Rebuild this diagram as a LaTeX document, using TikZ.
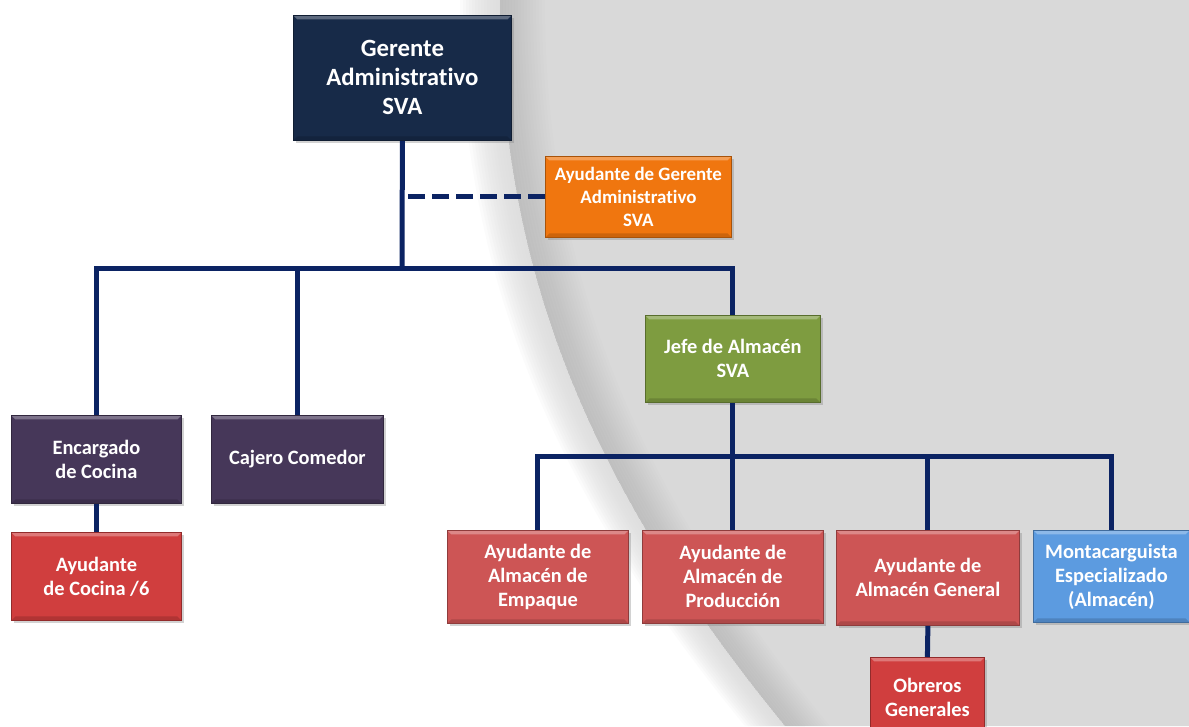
\documentclass[tikz,border=0pt]{standalone}
\usepackage{fontspec}
\setmainfont{Carlito}[Ligatures=NoCommon]
\usetikzlibrary{shadows}

\definecolor{lineaAzul}{HTML}{0B2363}
\definecolor{fondoGris}{HTML}{D9D9D9}
\definecolor{azulGerente}{HTML}{172A48}
\definecolor{naranja}{HTML}{F0760F}
\definecolor{morado}{HTML}{463759}
\definecolor{rojoFuerte}{HTML}{D03E3E}
\definecolor{rojoClaro}{HTML}{CD5555}
\definecolor{verde}{HTML}{7E9C40}
\definecolor{azulClaro}{HTML}{5C9BE0}

% borde del fondo gris (en pixeles)
\newcommand{\curva}[1]{({495+#1},0) .. controls ({495+#1},250) and ({570+#1},470) .. ({780+#1},726)}
\newcommand{\curvainv}[1]{({780+#1},726) .. controls ({570+#1},470) and ({495+#1},250) .. ({495+#1},0)}

\tikzset{
  bisel/.style={path picture={
      \fill[white,opacity=.3] (path picture bounding box.north west) -- (path picture bounding box.north east)
        -- ([xshift=-3pt,yshift=-3pt]path picture bounding box.north east) -- ([xshift=3pt,yshift=-3pt]path picture bounding box.north west) -- cycle;
      \fill[black,opacity=.15] (path picture bounding box.south west) -- (path picture bounding box.south east)
        -- ([xshift=-3pt,yshift=3pt]path picture bounding box.south east) -- ([xshift=3pt,yshift=3pt]path picture bounding box.south west) -- cycle;
    }},
  puesto/.style={anchor=north west, inner sep=0pt, align=center, text=white,
    font=\bfseries\fontsize{15.3}{18}\selectfont, draw=#1!70!black, line width=0.6pt, fill=#1,
    drop shadow={shadow xshift=2pt, shadow yshift=-2pt, opacity=0.35}, bisel},
  enlace/.style={draw=lineaAzul, line width=3.75pt},
}

\begin{document}
\begin{tikzpicture}[x=0.75pt,y=-0.75pt]
  \useasboundingbox (0,0) rectangle (1189,726);
  % fondo
  \fill[white] (0,0) rectangle (1189,726);
  \fill[fondoGris] \curva{25} -- (1189,726) -- (1189,0) -- cycle;
  \foreach \s in {-35,-32,...,25} \fill[fondoGris,opacity=0.1] \curva{\s} -- \curvainv{25} -- cycle;
  \foreach \d in {3,6,...,45} \fill[black,opacity=0.008] \curva{5} -- \curvainv{5+\d} -- cycle;

  % puestos
  \node[puesto=azulGerente, minimum width=218*0.75pt, minimum height=125*0.75pt,
        font=\bfseries\fontsize{18.6}{21.75}\selectfont] (ger) at (293,15) {Gerente\\Administrativo\\SVA};
  \node[puesto=naranja, minimum width=186*0.75pt, minimum height=81*0.75pt,
        font=\bfseries\fontsize{14.2}{17.25}\selectfont] (aux) at (545,156) {Ayudante de Gerente\\Administrativo\\SVA};
  \node[puesto=morado, minimum width=170*0.75pt, minimum height=88*0.75pt] (enc) at (11,415) {Encargado\\de Cocina};
  \node[puesto=morado, minimum width=172*0.75pt, minimum height=88*0.75pt] (caj) at (211,415) {Cajero Comedor};
  \node[puesto=rojoFuerte, minimum width=170*0.75pt, minimum height=88*0.75pt] (coc) at (11,532) {Ayudante\\de Cocina /6};
  \node[puesto=verde, minimum width=175*0.75pt, minimum height=87*0.75pt] (jefe) at (645,315) {Jefe de Almacén\\SVA};
  \node[puesto=rojoClaro, minimum width=181*0.75pt, minimum height=93*0.75pt] (emp) at (447,530) {Ayudante de\\Almacén de\\Empaque};
  \node[puesto=rojoClaro, minimum width=181*0.75pt, minimum height=93*0.75pt] (prod) at (642,530) {Ayudante de\\Almacén de\\Producción};
  \node[puesto=rojoClaro, minimum width=183*0.75pt, minimum height=95*0.75pt] (gen) at (836,530) {Ayudante de\\Almacén General};
  \node[puesto=azulClaro, minimum width=156*0.75pt, minimum height=92*0.75pt] (mont) at (1033,530) {Montacarguista\\Especializado\\(Almacén)};
  \node[puesto=rojoFuerte, minimum width=114*0.75pt, minimum height=80*0.75pt] (obr) at (870,657) {Obreros\\Generales};

  % lineas
  \coordinate (bus1) at (402,268);
  \coordinate (bus2) at (732.5,456);
  \draw[enlace] (ger.south) -- (bus1);
  \draw[enlace, dash pattern=on 13pt off 5pt] (aux.west) -- (aux.west -| ger.south);
  \draw[enlace] (enc.north) |- (bus1) -| (jefe.north);
  \draw[enlace] (caj.north) -- (caj.north |- bus1);
  \draw[enlace] (enc.south) -- (coc.north);
  \draw[enlace] (jefe.south) -- (prod.north);
  \draw[enlace] (emp.north) |- (bus2) -| (mont.north);
  \draw[enlace] (gen.north) -- (gen.north |- bus2);
  \draw[enlace] (gen.south) -- (obr.north);
\end{tikzpicture}
\end{document}
